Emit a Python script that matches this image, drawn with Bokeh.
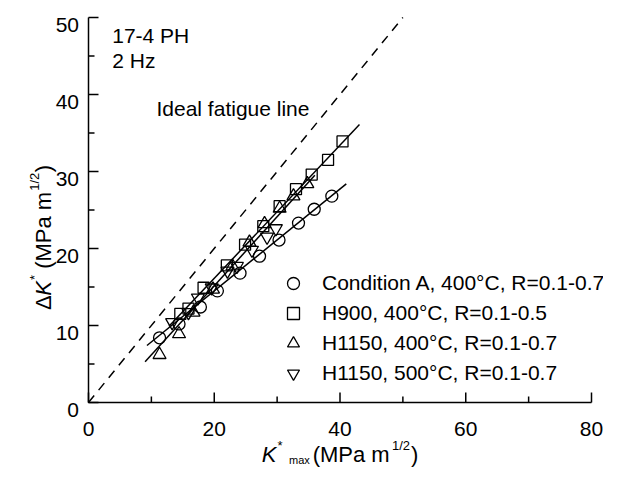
import math
from bokeh.plotting import figure
from bokeh.models import Range1d, Label, Legend, LegendItem
from bokeh.core.properties import value
from bokeh.embed import file_html
from bokeh.resources import INLINE

# ---------------- data ----------------
condA_x = [11.3, 14.4, 17.8, 20.5, 24.1, 27.2, 30.3, 33.4, 35.9, 38.7]
condA_y = [8.4, 10.2, 12.4, 14.5, 16.8, 19.0, 21.1, 23.3, 25.1, 26.8]

h900_x = [14.6, 15.9, 18.3, 22.0, 24.9, 27.8, 30.4, 33.0, 35.5, 38.1, 40.4]
h900_y = [11.5, 12.2, 14.9, 17.8, 20.5, 22.9, 25.5, 27.7, 29.6, 31.5, 33.9]

h1150_400_x = [11.3, 14.4, 16.7, 19.8, 22.9, 25.6, 28.0, 30.4, 32.6, 34.8]
h1150_400_y = [6.2, 8.9, 11.7, 14.7, 17.7, 20.8, 23.2, 25.2, 26.8, 28.4]

h1150_500_x = [13.3, 15.9, 17.4, 19.6, 22.1, 23.6, 26.0, 28.4, 29.8]
h1150_500_y = [10.4, 11.7, 13.6, 14.9, 17.1, 17.7, 19.8, 21.5, 22.6]

fitA_x = [9.3, 41.0]
fitA_y = [7.4, 28.4]
fit900_x = [12.8, 43.1]
fit900_y = [9.9, 36.1]
fit1150_x = [9.0, 36.0]
fit1150_y = [5.3, 29.5]
ideal_x = [0, 50]
ideal_y = [0, 50]

x_ticks = [0, 20, 40, 60, 80]
x_minor = [10, 30, 50, 70]
y_ticks = [0, 10, 20, 30, 40, 50]
y_minor = [5, 15, 25, 35, 45]
x_tick_labels = [str(v) for v in x_ticks]
y_tick_labels = [str(v) for v in y_ticks]

legend_labels = ["Condition A, 400°C, R=0.1-0.7",
                 "H900, 400°C, R=0.1-0.5",
                 "H1150, 400°C, R=0.1-0.7",
                 "H1150, 500°C, R=0.1-0.7"]

# ---------------- layout (figure pixels) ----------------
W, H = 603, 468
PX_L, PX_R, PX_T, PX_B = 88, 591, 17, 402   # pixel box of the data axes
xmin, xmax = x_ticks[0], x_ticks[-1]
ymin, ymax = y_ticks[0], y_ticks[-1]
sx = (PX_R - PX_L) / (xmax - xmin)
sy = (PX_B - PX_T) / (ymax - ymin)

def dx(px):   # pixel column -> data x
    return xmin + (px - PX_L) / sx

def dy(py):   # pixel row -> data y
    return ymin + (PX_B - py) / sy

FONT = "Liberation Sans"
FS = "21px"

p = figure(width=W, height=H,
           x_range=Range1d(dx(0), dx(W)), y_range=Range1d(dy(H), dy(0)),
           output_backend="svg", toolbar_location=None,
           x_axis_location=None, y_axis_location=None,
           min_border=0)
p.min_border_left = p.min_border_right = p.min_border_top = p.min_border_bottom = 0
p.background_fill_color = "white"
p.border_fill_color = "white"
p.outline_line_color = None
p.grid.visible = False

# axes drawn through the data scales
p.line([xmin, xmin, xmax], [ymax, ymin, ymin], line_color="black", line_width=1.5)
tk = dict(line_color="black", line_width=1.5, length_units="screen")
p.ray(x=x_ticks, y=[ymin] * len(x_ticks), length=10, angle=math.pi / 2, **tk)
p.ray(x=x_minor, y=[ymin] * len(x_minor), length=6, angle=math.pi / 2, **tk)
p.ray(x=[xmin] * len(y_ticks), y=y_ticks, length=10, angle=0, **tk)
p.ray(x=[xmin] * len(y_minor), y=y_minor, length=6, angle=0, **tk)
p.text(x=x_ticks, y=[ymin] * len(x_ticks), text=x_tick_labels,
       text_font=value(FONT), text_font_size=value(FS), text_color="black",
       text_align="center", text_baseline="alphabetic", y_offset=26)
p.text(x=[xmin] * len(y_ticks), y=y_ticks, text=y_tick_labels,
       text_font=value(FONT), text_font_size=value(FS), text_color="black",
       text_align="right", text_baseline="alphabetic", x_offset=-9.5, y_offset=7.5)

# lines
p.line(ideal_x, ideal_y, line_color="black", line_width=1.5, line_dash="9 7")
p.line(fitA_x, fitA_y, line_color="black", line_width=1.5)
p.line(fit900_x, fit900_y, line_color="black", line_width=1.5)
p.line(fit1150_x, fit1150_y, line_color="black", line_width=1.5)

mk = dict(line_color="black", fill_color=None, line_width=1.3)
rA = p.scatter(condA_x, condA_y, marker="circle", size=12, **mk)
r9 = p.scatter(h900_x, h900_y, marker="square", size=11, **mk)
r4 = p.scatter(h1150_400_x, h1150_400_y, marker="triangle", size=13, **mk)
r5 = p.scatter(h1150_500_x, h1150_500_y, marker="inverted_triangle", size=13, **mk)

legend = Legend(items=[LegendItem(label=legend_labels[0], renderers=[rA]),
                       LegendItem(label=legend_labels[1], renderers=[r9]),
                       LegendItem(label=legend_labels[2], renderers=[r4]),
                       LegendItem(label=legend_labels[3], renderers=[r5])],
                location=(278, 80), glyph_width=30, glyph_height=30, label_height=30,
                spacing=0, padding=0, margin=0, label_standoff=14,
                border_line_color=None, background_fill_alpha=0,
                label_text_font=FONT, label_text_font_size=FS, label_text_color="black")
p.add_layout(legend, "center")

def lab(text, x, y, size=FS, style="normal", **kw):
    p.add_layout(Label(x=x, y=y, text=text, text_font=FONT, text_font_size=size,
                       text_font_style=style, text_color="black",
                       text_baseline="alphabetic", text_align="left", **kw))

lab("17-4 PH", dx(111.7), dy(34.7))
lab("2 Hz", dx(111.7), dy(59.5))
lab("Ideal fatigue line", dx(156), dy(108))

# x axis title: K*max (MPa m^1/2), centred under the axis
XB = -52
X0 = (PX_L + PX_R) / 2 - 78.3 - PX_L
lab("K", xmin, ymin, "22px", "italic", x_offset=X0, y_offset=XB)
lab("*", xmin, ymin, "13px", x_offset=X0 + 15.8, y_offset=XB + 9)
lab("max", xmin, ymin, "11px", x_offset=X0 + 27.3, y_offset=XB - 5)
lab("(MPa m", xmin, ymin, "22px", x_offset=X0 + 51, y_offset=XB)
lab("1/2", xmin, ymin, "13px", x_offset=X0 + 130.3, y_offset=XB + 9)
lab(")", xmin, ymin, "22px", x_offset=X0 + 149.3, y_offset=XB)

# y axis title: ΔK* (MPa m^1/2), rotated
YB = 42.5 - PX_L
Y0 = PX_B - 309.5
A = math.pi / 2
lab("Δ", xmin, ymin, "22px", x_offset=YB, y_offset=Y0, angle=A)
lab("K", xmin, ymin, "22px", "italic", x_offset=YB, y_offset=Y0 + 14.3, angle=A)
lab("*", xmin, ymin, "13px", x_offset=YB - 9, y_offset=Y0 + 30, angle=A)
lab("(MPa m", xmin, ymin, "22px", x_offset=YB, y_offset=Y0 + 41.2, angle=A)
lab("1/2", xmin, ymin, "13px", x_offset=YB - 9, y_offset=Y0 + 119.2, angle=A)
lab(")", xmin, ymin, "22px", x_offset=YB, y_offset=Y0 + 137.7, angle=A)

open("out.html", "w").write(file_html(p, INLINE))
